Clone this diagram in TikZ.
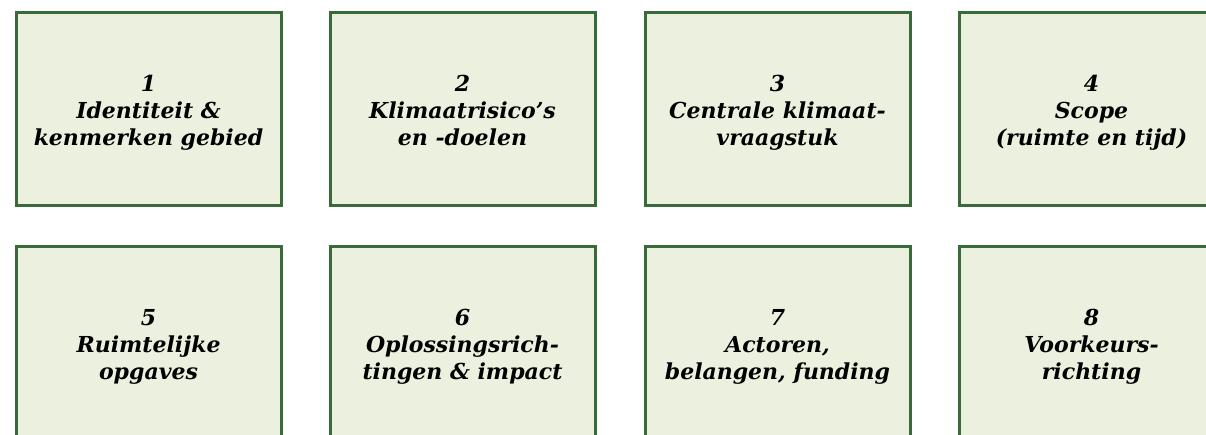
\documentclass[tikz,border=0pt]{standalone}
\usepackage{fontspec}
\setmainfont{DejaVu Serif}
\definecolor{boxfill}{HTML}{EBF1DE}
\definecolor{boxline}{HTML}{386A3A}
\begin{document}
\begin{tikzpicture}[x=1pt,y=-1pt,
  card/.style={draw=boxline, fill=boxfill, line width=3pt, rectangle,
    minimum width=265pt, minimum height=193pt, inner sep=0pt},
  cardtext/.style={align=center, text=black, inner sep=0pt, yshift=-5pt,
    font=\fontsize{22}{27}\selectfont\bfseries\itshape}]
\useasboundingbox (0,0) rectangle (1206,434);
\clip (0,0) rectangle (1206,434);
\node[card] (b1) at (148.5,108.5) {};
\node[card] (b2) at (462.5,108.5) {};
\node[card] (b3) at (777.5,108.5) {};
\node[card] (b4) at (1091.5,108.5) {};
\node[card] (b5) at (148.5,342.5) {};
\node[card] (b6) at (462.5,342.5) {};
\node[card] (b7) at (777.5,342.5) {};
\node[card] (b8) at (1091.5,342.5) {};
\node[cardtext] (t1) at (b1.center) {\strut 1\\Identiteit \&\\kenmerken gebied\strut};
\node[cardtext] (t2) at (b2.center) {\strut 2\\Klimaatrisico’s\\en -doelen\strut};
\node[cardtext] (t3) at (b3.center) {\strut 3\\Centrale klimaat-\\vraagstuk\strut};
\node[cardtext] (t4) at (b4.center) {\strut 4\\Scope\\(ruimte en tijd)\strut};
\node[cardtext] (t5) at (b5.center) {\strut 5\\Ruimtelijke\\opgaves\strut};
\node[cardtext] (t6) at (b6.center) {\strut 6\\Oplossingsrich-\\tingen \& impact\strut};
\node[cardtext] (t7) at (b7.center) {\strut 7\\Actoren,\\belangen, funding\strut};
\node[cardtext] (t8) at (b8.center) {\strut 8\\Voorkeurs-\\richting\strut};
\end{tikzpicture}
\end{document}
